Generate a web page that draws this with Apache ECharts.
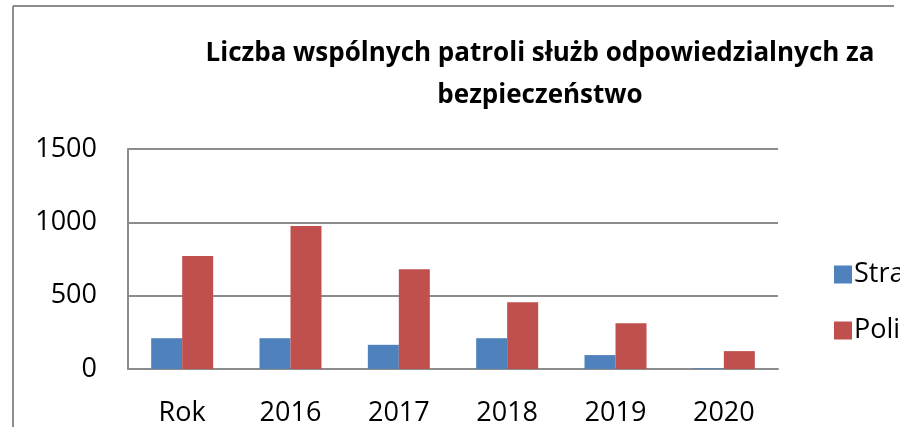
<!DOCTYPE html>
<html>
<head>
<meta charset="utf-8">
<script src="https://cdn.jsdelivr.net/npm/echarts@6/dist/echarts.min.js"></script>
<style>
html,body{margin:0;padding:0;background:#fff;}
#c{width:900px;height:427px;}
</style>
</head>
<body>
<div id="c"></div>
<script>
var titleText = 'Liczba wspólnych patroli służb odpowiedzialnych za\nbezpieczeństwo';
var categories = ['Rok', '2016', '2017', '2018', '2019', '2020'];
var seriesNames = ['Straż Miejska', 'Policja'];
var strazValues = [210, 210, 165, 210, 95, 5];
var policjaValues = [770, 975, 680, 455, 312, 122];
var yTicks = [0, 500, 1000, 1500];

var chart = echarts.init(document.getElementById('c'), null, {renderer: 'canvas'});
var font = '"Open Sans", "Noto Sans", sans-serif';
chart.setOption({
  animation: false,
  backgroundColor: '#ffffff',
  title: {
    text: titleText,
    left: 535,
    textAlign: 'center',
    top: 28,
    textStyle: {
      fontFamily: font,
      fontWeight: 'bold',
      fontSize: 26,
      lineHeight: 42,
      color: '#000'
    }
  },
  legend: {
    orient: 'vertical',
    left: 829,
    top: 256,
    itemWidth: 18,
    itemHeight: 18,
    itemGap: 29,
    icon: 'rect',
    textStyle: {fontFamily: font, fontSize: 27, color: '#000', padding: [0, 0, 0, -3]},
    data: seriesNames
  },
  grid: {left: 128, right: 122, top: 149, bottom: 57, containLabel: false},
  xAxis: {
    type: 'category',
    data: categories,
    axisLine: {show: true, lineStyle: {color: '#8c8c8c', width: 2}},
    axisTick: {show: false},
    axisLabel: {fontFamily: font, fontSize: 27, color: '#000', margin: 31}
  },
  yAxis: {
    type: 'value',
    min: yTicks[0],
    max: yTicks[yTicks.length - 1],
    interval: 500,
    axisLine: {show: true, lineStyle: {color: '#8c8c8c', width: 2}},
    axisTick: {show: false},
    splitLine: {show: true, lineStyle: {color: '#8c8c8c', width: 2}},
    axisLabel: {fontFamily: font, fontSize: 27, color: '#000', margin: 31,
      formatter: function (v) { return String(v); }}
  },
  series: [
    {
      name: seriesNames[0],
      type: 'bar',
      data: strazValues,
      barWidth: 31,
      barGap: '0%',
      itemStyle: {color: '#4F81BD'}
    },
    {
      name: seriesNames[1],
      type: 'bar',
      data: policjaValues,
      barWidth: 31,
      barGap: '0%',
      itemStyle: {color: '#C0504D'}
    }
  ],
  graphic: [
    {type: 'line', shape: {x1: 13, y1: 6, x2: 894, y2: 6}, style: {stroke: '#8c8c8c', lineWidth: 2}, silent: true},
    {type: 'line', shape: {x1: 13, y1: 6, x2: 13, y2: 427}, style: {stroke: '#8c8c8c', lineWidth: 2}, silent: true}
  ]
});
</script>
</body>
</html>
